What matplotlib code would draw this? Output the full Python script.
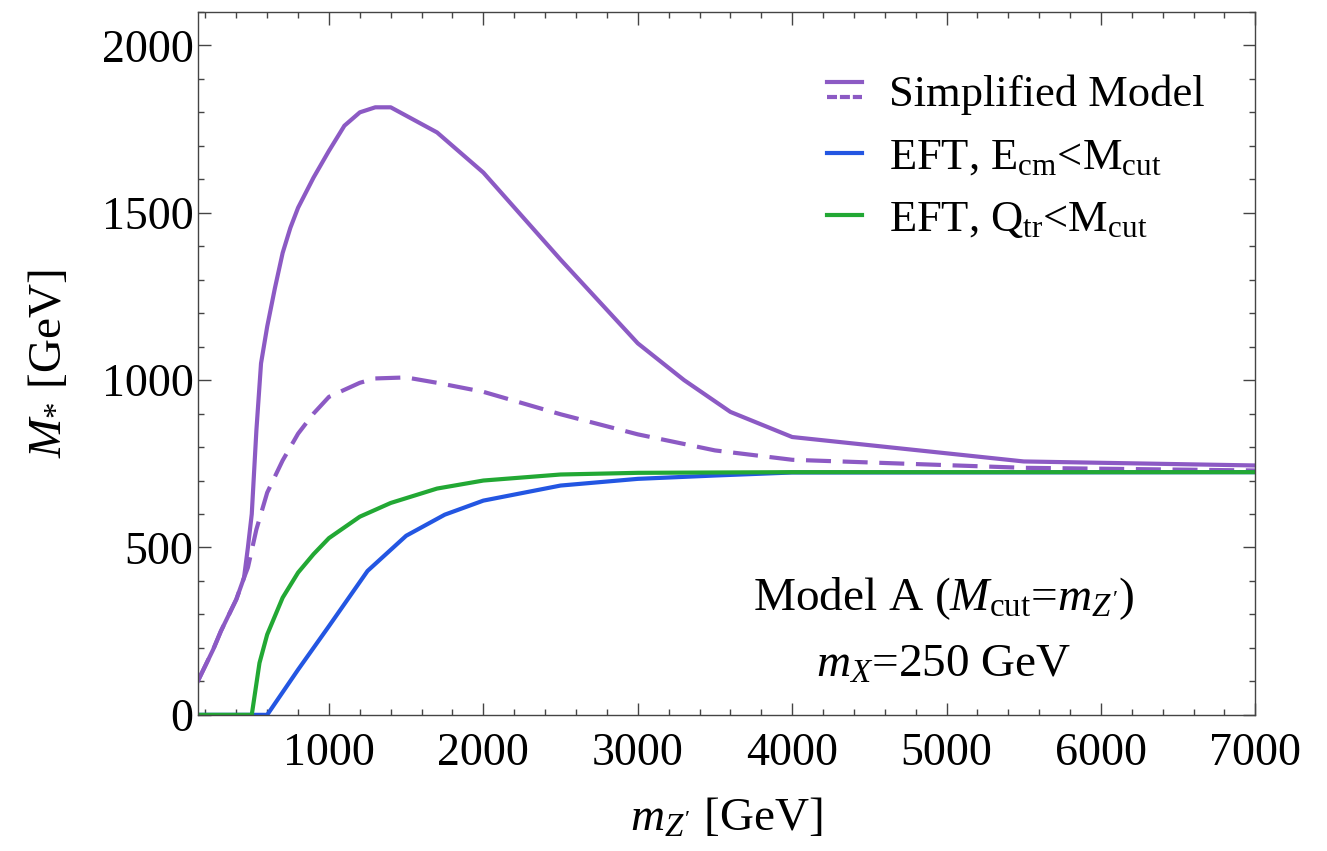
import matplotlib
matplotlib.use("Agg")
import matplotlib.pyplot as plt
import matplotlib.ticker as tick
from matplotlib.lines import Line2D
from matplotlib.legend_handler import HandlerBase

plt.rcParams['font.family'] = ['Liberation Serif', 'DejaVu Serif']
plt.rcParams['mathtext.fontset'] = 'custom'
plt.rcParams['mathtext.rm'] = 'Liberation Serif'
plt.rcParams['mathtext.it'] = 'Liberation Serif:italic'
plt.rcParams['mathtext.bf'] = 'Liberation Serif:bold'

# simplified model, solid and dashed
sm_x = [150, 250, 300, 400, 450, 475, 500, 530, 560, 600, 650, 700, 750, 800, 900, 1000,
        1100, 1200, 1300, 1400, 1500, 1700, 2000, 2500, 3000, 3300, 3600, 4000, 5500, 7000]
sm_solid = [100, 195, 250, 345, 410, 500, 600, 850, 1050, 1160, 1275, 1380, 1455, 1515, 1605, 1685,
            1760, 1800, 1815, 1815, 1790, 1740, 1620, 1360, 1110, 1000, 905, 830, 757, 745]

smd_x = [150, 250, 300, 400, 450, 475, 530, 600, 700, 800, 900, 1000, 1200, 1300, 1500,
         1700, 2000, 2500, 3000, 3500, 4000, 5500, 7000]
sm_dashed = [100, 195, 250, 345, 410, 440, 554, 664, 760, 840, 900, 950, 992, 1005, 1008,
             992, 965, 898, 838, 790, 762, 738, 730]

# EFT, E_cm < M_cut
ecm_x = [150, 600, 800, 1000, 1250, 1500, 1750, 2000, 2500, 3000, 3500, 4000, 7000]
ecm_y = [0, 0, 135, 265, 430, 535, 598, 640, 685, 705, 715, 724, 725]

# EFT, Q_tr < M_cut
qtr_x = [150, 500, 550, 600, 700, 800, 900, 1000, 1200, 1400, 1700, 2000, 2500, 3000, 4000, 7000]
qtr_y = [0, 0, 155, 240, 350, 425, 480, 528, 592, 633, 676, 700, 718, 723, 725, 725]

purple = '#8c5ac4'
blue = '#2356e2'
green = '#22a834'


class StackedHandler(HandlerBase):
    def create_artists(self, legend, orig_handle, xdescent, ydescent, width, height, fontsize, trans):
        x0, y0 = -xdescent, -ydescent
        top = Line2D([x0, x0 + width], [y0 + height * 0.78] * 2, color=purple, lw=3, transform=trans)
        bot = Line2D([x0, x0 + width], [y0 + height * 0.28] * 2, color=purple, lw=3,
                     dashes=(2.4, 0.7), transform=trans)
        return [top, bot]


fig = plt.figure(figsize=(13.27, 8.51), dpi=100)
ax = fig.add_axes([0.149, 0.160, 0.797, 0.826])

ax.plot(sm_x, sm_solid, color=purple, lw=3)
ax.plot(smd_x, sm_dashed, color=purple, lw=3, dashes=(6, 2.8))
ax.plot(ecm_x, ecm_y, color=blue, lw=3)
ax.plot(qtr_x, qtr_y, color=green, lw=3)

ax.set_xlim(150, 7000)
ax.set_ylim(0, 2100)
ax.xaxis.set_major_locator(tick.MultipleLocator(1000))
ax.xaxis.set_minor_locator(tick.MultipleLocator(200))
ax.yaxis.set_major_locator(tick.FixedLocator([0, 500, 1000, 1500, 2000]))
ax.yaxis.set_minor_locator(tick.MultipleLocator(100))
ax.tick_params(which='both', direction='in', top=True, right=True, color='#444444', width=1)
ax.tick_params(which='major', length=9)
ax.tick_params(which='minor', length=4.5)
ax.tick_params(axis='x', labelsize=33, pad=13)
ax.tick_params(axis='y', labelsize=33, pad=3)
for s in ax.spines.values():
    s.set_color('#444444')
    s.set_linewidth(1)

ax.set_xlabel("$m_{Z'}$ [GeV]", fontsize=34, labelpad=16)
ax.set_ylabel("$M_{*}$ [GeV]", fontsize=34, labelpad=22)

h_sm = Line2D([], [], color=purple)
h_ecm = Line2D([], [], color=blue, lw=3)
h_qtr = Line2D([], [], color=green, lw=3)
ax.legend([h_sm, h_ecm, h_qtr],
          ["Simplified Model", "EFT, E$_\\mathrm{cm}$<M$_\\mathrm{cut}$",
           "EFT, Q$_\\mathrm{tr}$<M$_\\mathrm{cut}$"],
          handler_map={h_sm: StackedHandler()},
          loc='upper right', bbox_to_anchor=(0.99, 0.968), frameon=False, fontsize=32,
          handlelength=0.8, handletextpad=0.6, labelspacing=0.5)

ax.text(0.705, 0.165, "Model A ($M_\\mathrm{cut}$=$m_{Z'}$)", transform=ax.transAxes,
        ha='center', va='center', fontsize=34)
ax.text(0.705, 0.07, "$m_X$=250 GeV", transform=ax.transAxes,
        ha='center', va='center', fontsize=34)

fig.savefig("out.png", dpi=100)
